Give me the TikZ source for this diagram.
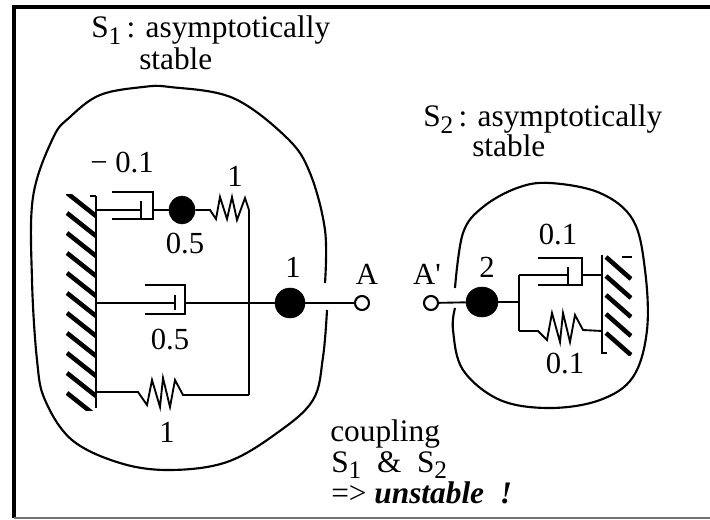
\documentclass[tikz,border=0pt]{standalone}
\usepackage{fontspec}
\usetikzlibrary{shapes.geometric}
\setmainfont{Liberation Serif}
\newfontfamily\plainrm{Liberation Serif}
\begin{document}
\begin{tikzpicture}[x=0.75pt,y=-0.75pt,line join=miter,
  wire/.style={line width=1.4pt},
  blob/.style={line width=1.6pt},
  framing/.style={line width=2.4pt},
  hatch/.style={line width=3.4pt},
  mass/.style={ellipse,fill=black,draw=black,inner sep=0pt},
  port/.style={circle,fill=white,draw=black,line width=1.6pt,inner sep=0pt,minimum size=10.5pt},
  lab/.style={anchor=base,inner sep=0pt,font=\fontsize{23}{23}\selectfont},
  txt/.style={anchor=base west,inner sep=0pt,font=\fontsize{23.5}{24}\selectfont}]
\newcommand{\subdigit}[1]{\smash{\raisebox{-5pt}{\fontsize{19}{19}\selectfont #1}}}
\useasboundingbox (0,0) rectangle (710,520);
% frame
\draw[framing] (710,7) -- (14,7) -- (14,518);
\draw[line width=0.9pt,black!55] (14,518) -- (710,518);
% boundaries
\draw[blob] plot[smooth,tension=0.6] coordinates {(325,283) (325,230) (310,173) (287,138) (233,98) (170,87) (143,87) (100,95) (70,117) (53,138) (33,197) (32,280) (37,360) (45,400) (72,440) (120,463) (170,470) (227,462) (277,433) (313,400) (323,357) (327,310)};
\draw[blob] plot[smooth,tension=0.6] coordinates {(455,288) (463,233) (483,207) (517,188) (550,183) (600,193) (633,220) (645,270) (647,330) (633,377) (600,400) (550,408) (500,400) (463,370) (453,330) (455,308)};
% wall 1
\draw[wire] (96,196) -- (96,408);
\draw[wire] (90,196) -- (96,196);
\begin{scope}
\clip (66,195) rectangle (96,410);
\foreach \y in {193,213,...,393} \draw[hatch] (67,\y) -- (96,\y+23);
\end{scope}
% wall 2
\draw[wire] (607,353) -- (602,353) -- (602,255);
\draw[wire] (622,257) -- (632,257);
\begin{scope}
\clip (602,255) rectangle (632,355);
\foreach \y in {257,276,295,314,333} \draw[hatch] (606,\y) -- (631,\y+22);
\end{scope}
% nodes
\node[mass,minimum width=19.5pt,minimum height=21pt] (m1) at (182,210) {};
\node[mass,minimum width=22.5pt,minimum height=22.5pt] (m2) at (290,303) {};
\node[mass,minimum width=24pt,minimum height=22.5pt] (m3) at (482,302) {};
\node[port] (A) at (362,303) {};
\node[port] (Ap) at (431,303) {};
\coordinate (w1a) at (96,210);
\coordinate (w1b) at (96,303);
\coordinate (w1c) at (96,392);
\coordinate (j1) at (249,210);
\coordinate (j2) at (249,303);
\coordinate (j3) at (249,395);
\coordinate (j4) at (519,302);
\coordinate (j5) at (519,275);
\coordinate (j6) at (519,331);
\coordinate (w2a) at (602,275);
\coordinate (w2b) at (602,331);
% upper damper and spring
\draw[wire] (w1a) -- (141,210);
\draw[wire] (141,201) -- (141,219);
\draw[wire] (112,192) -- (153,192) -- (153,219) -- (112,219);
\draw[wire] (153,210) -- (m1);
\draw[wire] (m1) -- (210,210) -- (216,219) -- (220,197) -- (227,219) -- (232,197) -- (237,220) -- (245,198) -- (j1);
\draw[wire] (j1) -- (j3);
% middle damper
\draw[wire] (w1b) -- (175,303);
\draw[wire] (175,295) -- (175,310);
\draw[wire] (145,285) -- (185,285) -- (185,314) -- (145,314);
\draw[wire] (185,303) -- (m2);
\draw[wire] (m2) -- (A);
% lower spring
\draw[wire] (w1c) -- (138,392) -- (147,405) -- (152,380) -- (160,407) -- (163,378) -- (170,407) -- (175,380) -- (183,395) -- (j3);
% right system
\draw[wire] (Ap) -- (m3);
\draw[wire] (m3) -- (j4);
\draw[wire] (j5) -- (j6);
\draw[wire] (j5) -- (568,275);
\draw[wire] (568,267) -- (568,285);
\draw[wire] (538,258) -- (582,258) -- (582,285) -- (538,285);
\draw[wire] (582,275) -- (w2a);
\draw[wire] (j6) -- (538,331) -- (547,340) -- (552,313) -- (560,342) -- (563,313) -- (570,342) -- (575,315) -- (583,330) -- (w2b);
% labels
\node[txt] (t1) at (91,38) {S\subdigit{1}\,: asymptotically};
\node[txt] (t2) at (139,70) {stable};
\node[txt] (t3) at (423,127) {S\subdigit{2}\,: asymptotically};
\node[txt] (t4) at (472,157) {stable};
\node[lab] (l1) at (122,173) {\textminus\ 0.1};
\node[lab] (l2) at (235,187) {1};
\node[lab] (l3) at (185,254) {0.5};
\node[lab] (l4) at (293,277) {1};
\node[lab] (l5) at (170,349) {0.5};
\node[lab] (l6) at (167,442) {1};
\node[lab] (l7) at (367,285) {A};
\node[lab] (l8) at (427,285) {\plainrm A'};
\node[lab] (l9) at (487,277) {2};
\node[lab] (l10) at (558,245) {0.1};
\node[lab] (l11) at (565,373) {0.1};
\node[txt] (c1) at (330,441) {coupling};
\node[txt] (c2) at (331,472) {S\subdigit{1}\ \ \&\ \ S\subdigit{2}};
\node[txt] (c3) at (331,503) {=> \textbf{\textit{unstable\ \ !}}};
\end{tikzpicture}
\end{document}
